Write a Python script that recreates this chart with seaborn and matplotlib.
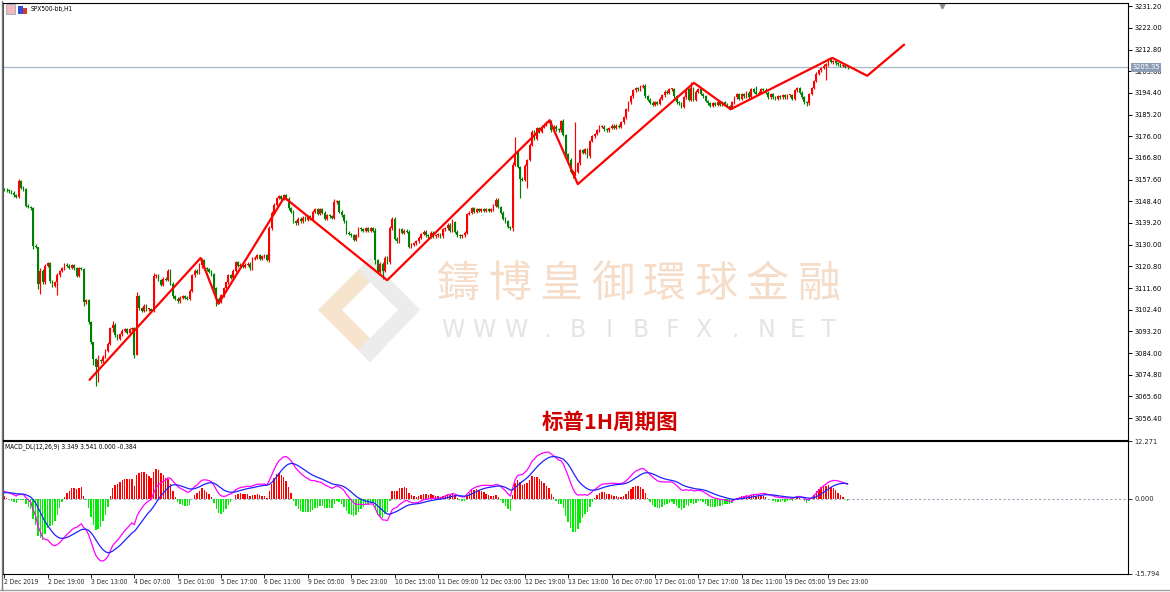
import numpy as np
import pandas as pd
import matplotlib
matplotlib.use("Agg")
import matplotlib.pyplot as plt
import matplotlib.transforms as mtransforms
from matplotlib.patches import Polygon, Rectangle
import seaborn as sns

# ---------------- data ----------------
closes = [
    3153.3, 3153.0, 3152.6, 3152.0, 3151.0, 3150.3, 3157.0, 3154.2, 3153.5, 3146.5,
    3146.0, 3145.5, 3129.5, 3129.0, 3113.5, 3119.0, 3114.0, 3121.0, 3122.2, 3114.5,
    3112.5, 3114.0, 3117.0, 3118.8, 3120.0, 3121.5, 3121.0, 3120.2, 3121.3, 3120.0,
    3116.8, 3120.0, 3119.8, 3105.5, 3106.5, 3097.0, 3088.5, 3081.5, 3078.0, 3081.0,
    3080.5, 3082.5, 3085.0, 3088.0, 3094.5, 3096.0, 3091.5, 3090.0, 3092.0, 3093.5,
    3094.0, 3092.5, 3094.0, 3094.5, 3083.0, 3108.0, 3103.0, 3102.0, 3104.0, 3102.5,
    3102.5, 3102.0, 3116.5, 3117.0, 3115.0, 3113.0, 3115.5, 3115.0, 3119.0, 3113.5,
    3108.0, 3107.0, 3106.0, 3107.5, 3108.0, 3107.5, 3107.0, 3110.5, 3117.0, 3119.0,
    3118.0, 3121.5, 3123.5, 3120.0, 3119.5, 3118.5, 3117.5, 3111.5, 3107.0, 3106.0,
    3108.5, 3111.5, 3114.0, 3117.0, 3116.0, 3119.0, 3122.5, 3121.0, 3121.5, 3120.5,
    3121.5, 3122.0, 3120.0, 3124.0, 3124.5, 3125.5, 3124.0, 3125.0, 3125.5, 3123.5,
    3137.0, 3143.5, 3147.0, 3149.8, 3150.5, 3149.5, 3151.0, 3149.5, 3145.5, 3144.0,
    3140.0, 3139.0, 3141.0, 3140.0, 3141.5, 3140.5, 3142.0, 3141.0, 3144.0, 3145.0,
    3143.0, 3145.0, 3143.5, 3141.0, 3142.5, 3142.0, 3141.5, 3148.0, 3148.5, 3144.0,
    3142.5, 3140.0, 3135.0, 3134.5, 3134.0, 3132.0, 3134.0, 3137.0, 3136.5, 3136.0,
    3137.0, 3136.0, 3137.0, 3136.0, 3123.5, 3118.5, 3122.0, 3119.0, 3124.5, 3122.5,
    3137.0, 3141.0, 3132.5, 3131.5, 3136.5, 3135.0, 3136.0, 3135.5, 3129.0, 3130.0,
    3130.5, 3131.5, 3133.0, 3134.5, 3135.5, 3134.0, 3133.5, 3135.0, 3133.5, 3134.0,
    3134.5, 3133.5, 3136.5, 3137.0, 3138.5, 3136.0, 3139.5, 3135.5, 3134.0, 3133.5,
    3134.0, 3135.0, 3143.0, 3143.5, 3145.5, 3144.0, 3145.0, 3144.5, 3145.0, 3144.5,
    3145.0, 3144.5, 3145.0, 3146.5, 3149.0, 3146.0, 3143.5, 3141.0, 3140.0, 3137.5,
    3137.0, 3164.0, 3169.0, 3163.0, 3158.0, 3157.5, 3163.5, 3166.0, 3172.5, 3178.0,
    3175.0, 3179.5, 3178.0, 3180.0, 3181.0, 3182.0, 3182.5, 3178.5, 3180.0, 3179.0,
    3178.5, 3182.5, 3176.5, 3168.5, 3166.0, 3161.0, 3159.5, 3161.0, 3164.5, 3170.0,
    3169.0, 3170.5, 3167.5, 3174.0, 3176.0, 3177.0, 3178.5, 3180.0, 3180.0, 3179.0,
    3178.5, 3179.5, 3180.5, 3179.5, 3180.5, 3180.0, 3182.0, 3184.0, 3187.5, 3190.5,
    3193.0, 3195.5, 3196.5, 3196.0, 3197.0, 3197.5, 3193.0, 3191.5, 3190.3, 3189.5,
    3190.5, 3189.8, 3192.0, 3193.5, 3195.0, 3194.5, 3196.0, 3196.0, 3193.0, 3190.5,
    3190.0, 3188.5, 3192.5, 3196.0, 3191.5, 3196.5, 3191.5, 3195.0, 3196.0, 3194.0,
    3193.0, 3191.0, 3190.0, 3189.0, 3190.0, 3189.5, 3190.5, 3189.5, 3190.5, 3189.5,
    3189.0, 3188.0, 3190.5, 3192.5, 3194.0, 3192.0, 3194.0, 3193.0, 3194.5, 3192.5,
    3196.0, 3195.0, 3194.0, 3194.5, 3196.0, 3195.8, 3194.5, 3192.5, 3194.0, 3192.5,
    3192.0, 3193.0, 3192.5, 3193.5, 3192.5, 3193.5, 3193.5, 3192.0, 3195.5, 3196.5,
    3194.5, 3192.5, 3190.5, 3190.0, 3194.0, 3196.5, 3199.5, 3202.5, 3204.0, 3205.0,
    3206.0, 3206.5, 3208.5, 3207.5, 3208.0, 3207.0, 3206.5, 3206.0, 3206.0, 3205.5,
    3205.35,
]
first_open = 3153.6
typical_wick = 0.6
# bars with visibly longer shadows: index -> (high, low)
wick_overrides = {
    6: (3158.0, 3150.0), 12: (3146.0, 3128.0), 14: (3129.0, 3111.0),
    15: (3120.0, 3109.0), 22: (3118.0, 3108.5), 33: (3120.0, 3104.0),
    37: (3088.5, 3079.0), 38: (3082.0, 3070.0), 39: (3083.0, 3071.5),
    45: (3097.5, 3093.0), 54: (3095.0, 3082.0), 55: (3110.0, 3083.0),
    62: (3118.0, 3101.5), 82: (3124.5, 3120.0), 88: (3112.0, 3104.0),
    110: (3138.0, 3122.5), 116: (3151.5, 3149.0), 137: (3149.5, 3141.0),
    154: (3137.0, 3122.0), 157: (3122.5, 3115.5), 160: (3138.0, 3122.0),
    186: (3141.0, 3135.5), 211: (3165.0, 3136.0), 212: (3175.5, 3163.5),
    214: (3163.5, 3150.0), 217: (3166.5, 3154.0), 226: (3183.2, 3181.5),
    232: (3183.5, 3176.0), 236: (3161.5, 3158.5), 237: (3182.0, 3159.0),
    285: (3199.0, 3191.0), 301: (3189.5, 3187.5), 312: (3197.5, 3193.5),
    333: (3190.8, 3189.0), 341: (3207.0, 3200.0), 343: (3209.5, 3207.0),
}

# hand-drawn zig-zag trend line (bar index, price)
zz_idx = [35.4, 81.5, 88.9, 116.2, 158.9, 226.3, 238.0, 286.2, 301.4, 343.6, 358.1, 373.4]
zz_price = [3072.6, 3124.35, 3104.9, 3150.1, 3114.9, 3182.8, 3155.7, 3198.7, 3187.5,
            3209.3, 3201.7, 3214.9]

price_ticks = [3231.2, 3222.0, 3212.8, 3203.6, 3194.4, 3185.2, 3176.0, 3166.8, 3157.6,
               3148.4, 3139.2, 3130.0, 3120.8, 3111.6, 3102.4, 3093.2, 3084.0, 3074.8,
               3065.6, 3056.4]
date_tick_bars = [0, 18, 36, 54, 72, 90, 108, 126, 144, 162, 180, 198, 216, 234, 252,
                  270, 288, 306, 324, 342]
date_labels = ["2 Dec 2019", "2 Dec 19:00", "3 Dec 13:00", "4 Dec 07:00", "5 Dec 01:00",
               "5 Dec 17:00", "6 Dec 11:00", "9 Dec 05:00", "9 Dec 23:00", "10 Dec 15:00",
               "11 Dec 09:00", "12 Dec 03:00", "12 Dec 19:00", "13 Dec 13:00",
               "16 Dec 07:00", "17 Dec 01:00", "17 Dec 17:00", "18 Dec 11:00",
               "19 Dec 05:00", "19 Dec 23:00"]
macd_ticks = [12.271, 0.0, -15.794]
macd_tick_labels = ["12.271", "0.000", "-15.794"]
last_price = 3205.35
macd_start = 1.6
signal_start = 1.3

title_text = "标普1H周期图"
symbol_text = "SPX500-bb,H1"
macd_legend = "MACD_DL(12,26,9) 3.349 3.541 0.000 -0.384"
wm_cn = "鑄博皇御環球金融"
wm_en = "WWW.BIBFX.NET"

# ---------------- styling ----------------
sns.set_theme(style="white")
plt.rcParams['font.family'] = ['DejaVu Sans']
plt.rcParams['font.stretch'] = 'condensed'
plt.rcParams['axes.linewidth'] = 0.8
YLAB = 5.3
XLAB = 4.8
LEG = 4.7
CJK = ['Noto Sans CJK SC', 'DejaVu Sans']

W, H = 1170, 592
fig = plt.figure(figsize=(W / 100, H / 100), dpi=100)
fig.patch.set_facecolor('white')


def fx(px):
    return px / W


def fy(py):
    return 1 - py / H


ax1 = fig.add_axes([fx(3), fy(440), fx(1125), 437 / H])
ax2 = fig.add_axes([fx(3), fy(573.5), fx(1125), 132.5 / H])
for a in (ax1, ax2):
    a.set_facecolor('none')
    a.set_zorder(2)

n = len(closes)
idx = np.arange(n)
c = np.array(closes)
o = np.array([first_open] + closes[:-1])
hi = np.maximum(o, c) + typical_wick
lo = np.minimum(o, c) - typical_wick
for k, (h_, l_) in wick_overrides.items():
    hi[k] = max(h_, max(o[k], c[k]))
    lo[k] = min(l_, min(o[k], c[k]))

up = c >= o
col = np.where(up, '#ff0000', '#008000')
xlim = (-0.5, 466.3)

# ---- watermark (behind the axes) ----
wm_cx0, wm_pitch = 457.8, 51.6
for k, ch in enumerate(wm_cn):
    fig.text(fx(wm_cx0 + k * wm_pitch), fy(285), ch, fontsize=31, color='#f5ddca',
             ha='center', va='center', family=['Noto Sans CJK TC', 'Noto Sans CJK SC'],
             fontstretch='normal', zorder=0.5)
en_x0, en_pitch = 453, 31.3
for k, ch in enumerate(wm_en):
    fig.text(fx(en_x0 + k * en_pitch), fy(330), ch, fontsize=17, color='#e4e4e4',
             ha='center', va='center', family=['DejaVu Sans'], fontstretch='normal',
             zorder=0.5)
logo_left = Polygon([[fx(370), fy(258)], [fx(318), fy(310)], [fx(370), fy(362)],
                     [fx(382), fy(350)], [fx(342), fy(310)], [fx(382), fy(270)]],
                    closed=True, transform=fig.transFigure, facecolor='#f7e4cf',
                    edgecolor='none', zorder=0.4)
logo_right = Polygon([[fx(370), fy(258)], [fx(420), fy(310)], [fx(370), fy(362)],
                      [fx(358), fy(350)], [fx(398), fy(310)], [fx(358), fy(270)]],
                     closed=True, transform=fig.transFigure, facecolor='#ececec',
                     edgecolor='none', zorder=0.4)
fig.patches.extend([logo_left, logo_right])

# ---- candles ----
ax1.vlines(idx, lo, hi, colors=col, linewidth=0.85, zorder=2)
body_h = np.maximum(np.abs(c - o), 0.4)
ax1.bar(idx, body_h, bottom=np.minimum(o, c), width=0.74, color=col, linewidth=0, zorder=3)

# zig-zag trend line
zz = pd.DataFrame({'bar': zz_idx, 'price': zz_price})
sns.lineplot(data=zz, x='bar', y='price', ax=ax1, color='#ff0000', linewidth=1.6,
             sort=False, estimator=None, zorder=4)

ax1.axhline(last_price, color='#a9b6c6', linewidth=0.9, zorder=1)
ax1.set_xlim(*xlim)
ax1.set_ylim(3047.07, 3232.6)
ax1.set_xticks([])
ax1.set_xlabel('')
ax1.set_ylabel('')
ax1.yaxis.tick_right()
ax1.set_yticks(price_ticks)
ax1.set_yticklabels([f"{v:.2f}" for v in price_ticks])
ax1.tick_params(axis='y', direction='out', length=3, width=0.7, labelsize=YLAB, pad=1.5,
                colors='black', right=True, left=False)
for s in ax1.spines.values():
    s.set_color('#000000')
ax1.spines['left'].set_color('#555555')

# current price box
trans = mtransforms.blended_transform_factory(ax1.transAxes, ax1.transData)
ax1.text(1.004, last_price, f"{last_price:.2f}", transform=trans, fontsize=YLAB,
         color='white', ha='left', va='center', zorder=10,
         bbox=dict(boxstyle='square,pad=0.2', facecolor='#8d9db3', edgecolor='none'))

# title & legend texts
fig.text(fx(610), fy(422), title_text, fontsize=15.5, fontweight='bold', color='#d10000',
         ha='center', va='center', family=CJK, fontstretch='normal', zorder=5)
fig.text(fx(31), fy(9), symbol_text, fontsize=LEG, ha='left', va='center', color='black',
         zorder=5)
fig.patches.extend([
    Rectangle((fx(6), fy(13.5)), fx(9), 9 / H, transform=fig.transFigure,
              facecolor='#f2b8b8', edgecolor='#9aa5c0', linewidth=0.6, zorder=5),
    Rectangle((fx(18), fy(13.5)), fx(4.5), 8 / H, transform=fig.transFigure,
              facecolor='#2a4fd8', edgecolor='none', zorder=5),
    Rectangle((fx(22.5), fy(13.5)), fx(4.5), 6 / H, transform=fig.transFigure,
              facecolor='#d83a2a', edgecolor='none', zorder=5),
])
ax1.plot([0.8347], [0.993], marker='v', markersize=3.5, color='#8c8c8c',
         transform=ax1.transAxes, clip_on=False)

# ---- MACD (12,26,9) computed from the closes ----
a12, a26, a9 = 2 / 13, 2 / 27, 2 / 10
ema12 = np.empty(n)
ema26 = np.empty(n)
sig = np.empty(n)
ema12[0] = c[0]
ema26[0] = c[0] - macd_start
for t in range(1, n):
    ema12[t] = ema12[t - 1] + a12 * (c[t] - ema12[t - 1])
    ema26[t] = ema26[t - 1] + a26 * (c[t] - ema26[t - 1])
macd = ema12 - ema26
sig[0] = signal_start
for t in range(1, n):
    sig[t] = sig[t - 1] + a9 * (macd[t] - sig[t - 1])
hist = 2 * (macd - sig)

hcol = np.where(hist >= 0, '#ff0000', '#00ee00')
ax2.bar(idx, hist, width=0.6, color=hcol, linewidth=0, zorder=2)
mdf = pd.DataFrame({'bar': idx, 'macd': macd, 'signal': sig})
sns.lineplot(data=mdf, x='bar', y='macd', ax=ax2, color='#ff00ff', linewidth=0.9, zorder=3)
sns.lineplot(data=mdf, x='bar', y='signal', ax=ax2, color='#2020ff', linewidth=0.9, zorder=3)
ax2.axhline(0, color='#9aa8bb', linewidth=0.8, linestyle=(0, (2, 2)), zorder=1)
ax2.set_xlim(*xlim)
ax2.set_ylim(-15.794, 12.271)
ax2.set_xlabel('')
ax2.set_ylabel('')
ax2.yaxis.tick_right()
ax2.set_yticks(macd_ticks)
ax2.set_yticklabels(macd_tick_labels)
ax2.tick_params(axis='y', direction='out', length=3, width=0.7, labelsize=YLAB, pad=1.5,
                right=True, left=False)
ax2.set_xticks(date_tick_bars)
ax2.set_xticklabels(date_labels)
ax2.tick_params(axis='x', direction='out', length=3, width=0.7, labelsize=XLAB, pad=1.2,
                bottom=True)
for lbl in ax2.get_xticklabels():
    lbl.set_ha('left')
for s in ax2.spines.values():
    s.set_color('#000000')
ax2.spines['left'].set_color('#555555')
fig.text(fx(5), fy(447), macd_legend, fontsize=LEG, ha='left', va='center', color='black',
         zorder=5)

# outer frame lines
fig.add_artist(plt.Line2D([0, 1], [fy(589.5), fy(589.5)], transform=fig.transFigure,
                          color='#a0a0a0', linewidth=1.0))
fig.add_artist(plt.Line2D([fx(2), fx(2)], [fy(1), fy(589.5)], transform=fig.transFigure,
                          color='#7a7a7a', linewidth=1.0))

fig.savefig("out.png", dpi=100, facecolor='white')
